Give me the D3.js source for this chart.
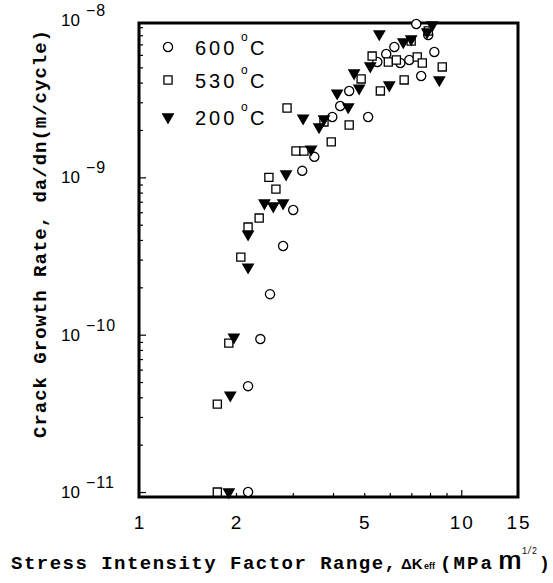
<!DOCTYPE html>
<html>
<head>
<meta charset="utf-8">
<script src="https://d3js.org/d3.v7.min.js"></script>
<style>
  body { margin: 0; background: #fff; }
  svg { display: block; }
</style>
</head>
<body>
<script>
// values: dK_eff (MPa m^1/2) against da/dn (m/cycle)
var k600 = [2.18, 2.18, 2.38, 2.55, 2.80, 3.01, 3.21, 3.50, 3.98, 4.21, 4.49,
            5.14, 5.49, 5.85, 6.20, 6.47, 6.90, 7.51, 8.25, 7.25, 7.90];
var rate600 = [1.0e-11, 4.71e-11, 9.38e-11, 1.81e-10, 3.66e-10, 6.20e-10, 1.10e-9, 1.35e-9, 2.42e-9, 2.84e-9, 3.54e-9,
               2.42e-9, 5.41e-9, 6.08e-9, 6.74e-9, 5.33e-9, 5.57e-9, 4.41e-9, 6.26e-9, 9.43e-9, 8.03e-9];

var k530 = [1.75, 1.75, 1.90, 2.07, 2.18, 2.36, 2.53, 2.66, 2.88, 3.07, 3.25, 3.75, 3.95,
            4.49, 4.89, 5.29, 5.61, 5.94, 6.29, 6.65, 6.99, 7.30, 7.57, 7.90, 8.73];
var rate530 = [1.0e-11, 3.62e-11, 8.84e-11, 3.11e-10, 4.83e-10, 5.51e-10, 1.00e-9, 8.42e-10, 2.76e-9, 1.47e-9, 1.47e-9, 2.25e-9, 1.68e-9,
               2.15e-9, 4.22e-9, 5.90e-9, 3.54e-9, 5.41e-9, 5.57e-9, 4.16e-9, 7.35e-9, 5.82e-9, 5.33e-9, 8.51e-9, 5.03e-9];

var k200 = [1.90, 1.92, 1.97, 2.18, 2.18, 2.45, 2.61, 2.80, 2.86, 3.23, 3.42, 3.62, 3.75,
            4.12, 4.46, 4.65, 4.82, 5.22, 5.57, 5.98, 6.61, 6.99, 7.84, 8.13, 8.55];
var rate200 = [1.0e-11, 4.13e-11, 9.65e-11, 2.69e-10, 4.36e-10, 6.87e-10, 6.57e-10, 6.87e-10, 1.05e-9, 2.38e-9, 1.51e-9, 2.09e-9, 2.35e-9,
               3.43e-9, 2.80e-9, 4.60e-9, 3.69e-9, 5.10e-9, 8.15e-9, 3.86e-9, 7.25e-9, 7.57e-9, 8.39e-9, 9.29e-9, 4.16e-9];

var legendLabels = ["600", "530", "200"];
var xTickLabels = [1, 2, 5, 10, 15];
var yTickLabels = [1e-8, 1e-9, 1e-10, 1e-11];

var width = 553, height = 583;

var svg = d3.select("body").append("svg")
    .attr("width", width)
    .attr("height", height);

var x = d3.scaleLog().domain([1, 15]).range([139, 518]);
var y = d3.scaleLog().domain([9.3e-12, 9.57e-9]).range([497, 23]);

var series = [
  {k: k600, rate: rate600, shape: d3.symbolCircle, size: 66, fill: "#fff", rot: 0},
  {k: k530, rate: rate530, shape: d3.symbolSquare, size: 66, fill: "#fff", rot: 0},
  {k: k200, rate: rate200, shape: d3.symbolTriangle, size: 48, fill: "#000", rot: 180}
];

// minor / major ticks, pointing inward
var xMinor = [], yMinor = [];
[1, 10].forEach(function(dec) {
  for (var m = 2; m <= 9; m++) if (m * dec <= 15) xMinor.push(m * dec);
});
[1e-11, 1e-10, 1e-9].forEach(function(dec) {
  for (var m = 2; m <= 9; m++) yMinor.push(m * dec);
});

function tickStyle(g) {
  g.select(".domain").remove();
  g.selectAll(".tick line").attr("stroke", "#000").attr("stroke-width", 1.2);
}

svg.append("g")
    .attr("transform", "translate(" + x.range()[0] + ",0)")
    .call(d3.axisLeft(y).tickValues(yMinor).tickSize(-4).tickFormat(""))
    .call(tickStyle);
svg.append("g")
    .attr("transform", "translate(" + x.range()[0] + ",0)")
    .call(d3.axisLeft(y).tickValues(yTickLabels.slice(1)).tickSize(-7).tickFormat(""))
    .call(tickStyle);
svg.append("g")
    .attr("transform", "translate(0," + y.range()[0] + ")")
    .call(d3.axisBottom(x).tickValues(xMinor).tickSize(-4).tickFormat(""))
    .call(tickStyle);
svg.append("g")
    .attr("transform", "translate(0," + y.range()[0] + ")")
    .call(d3.axisBottom(x).tickValues([10]).tickSize(-7).tickFormat(""))
    .call(tickStyle);

// frame
svg.append("rect")
    .attr("x", x.range()[0])
    .attr("y", y.range()[1])
    .attr("width", x.range()[1] - x.range()[0])
    .attr("height", y.range()[0] - y.range()[1])
    .attr("fill", "none")
    .attr("stroke", "#000")
    .attr("stroke-width", 3);

// points
series.forEach(function(s) {
  svg.append("g").selectAll("path")
      .data(s.k.map(function(k, i) { return [k, s.rate[i]]; }))
      .enter().append("path")
      .attr("d", d3.symbol().type(s.shape).size(s.size))
      .attr("transform", function(d) {
        return "translate(" + x(d[0]) + "," + y(d[1]) + ") rotate(" + s.rot + ")";
      })
      .attr("fill", s.fill)
      .attr("stroke", "#000")
      .attr("stroke-width", 1.3);
});

// x tick labels
svg.append("g").selectAll("text")
    .data(xTickLabels)
    .enter().append("text")
    .attr("x", function(d) { return x(d) + 1; })
    .attr("y", 529)
    .attr("text-anchor", "middle")
    .attr("font-family", "Liberation Sans, Arial, sans-serif")
    .attr("font-size", 19)
    .attr("letter-spacing", 2)
    .text(function(d) { return d; });

// y tick labels, 10 with superscript exponent
var yl = svg.append("g").selectAll("text")
    .data(yTickLabels)
    .enter().append("text")
    .attr("x", 61)
    .attr("y", function(d) { return y(d) + 6; })
    .attr("font-family", "Liberation Sans, Arial, sans-serif")
    .attr("font-size", 17);
yl.append("tspan").text("10");
yl.append("tspan")
    .attr("dx", 6)
    .attr("dy", -10)
    .attr("font-size", 16)
    .attr("letter-spacing", 1)
    .text(function(d) { return "\u2212" + Math.round(-Math.log10(d)); });

// legend: number, raised degree mark, C
var leg = svg.append("g").selectAll("g")
    .data(series)
    .enter().append("g")
    .attr("transform", function(d, i) { return "translate(168," + [47, 80, 117][i] + ")"; });
leg.append("path")
    .attr("d", function(d) { return d3.symbol().type(d.shape).size(d.size)(); })
    .attr("transform", function(d) { return "rotate(" + d.rot + ")"; })
    .attr("fill", function(d) { return d.fill; })
    .attr("stroke", "#000")
    .attr("stroke-width", 1.3);
var legFont = "Liberation Sans, Arial, sans-serif";
leg.append("text")
    .attr("x", 27).attr("y", 8)
    .attr("font-family", legFont)
    .attr("font-size", 20)
    .attr("letter-spacing", 3)
    .text(function(d, i) { return legendLabels[i]; });
leg.append("text")
    .attr("x", 73).attr("y", -6)
    .attr("font-family", legFont)
    .attr("font-size", 12)
    .text("o");
leg.append("text")
    .attr("x", 82).attr("y", 8)
    .attr("font-family", legFont)
    .attr("font-size", 20)
    .text("C");

// axis titles
var mono = "Liberation Mono, Courier New, monospace";
svg.append("text")
    .attr("transform", "translate(46,234) rotate(-90)")
    .attr("text-anchor", "middle")
    .attr("font-family", mono)
    .attr("font-weight", "bold")
    .attr("font-size", 19)
    .attr("textLength", 408)
    .attr("lengthAdjust", "spacing")
    .text("Crack Growth Rate, da/dn(m/cycle)");

var xt = svg.append("g").attr("font-family", mono).attr("font-weight", "bold");
xt.append("text")
    .attr("x", 11).attr("y", 569)
    .attr("font-size", 19)
    .attr("textLength", 385)
    .attr("lengthAdjust", "spacing")
    .text("Stress Intensity Factor Range,");
xt.append("text")
    .attr("x", 401).attr("y", 569)
    .attr("font-family", "Liberation Sans, Arial, sans-serif")
    .attr("font-size", 15)
    .text("\u0394K");
xt.append("text")
    .attr("x", 424).attr("y", 569)
    .attr("font-family", "Liberation Sans, Arial, sans-serif")
    .attr("font-size", 9)
    .text("eff");
xt.append("text")
    .attr("x", 440).attr("y", 569)
    .attr("font-size", 19)
    .attr("textLength", 52)
    .attr("lengthAdjust", "spacing")
    .text("(MPa");
xt.append("text")
    .attr("x", 498).attr("y", 569)
    .attr("font-size", 26)
    .attr("font-weight", "normal")
    .attr("textLength", 24)
    .attr("lengthAdjust", "spacingAndGlyphs")
    .text("m");
xt.append("text")
    .attr("x", 522).attr("y", 554)
    .attr("font-size", 11)
    .attr("font-weight", "normal")
    .attr("textLength", 15)
    .attr("lengthAdjust", "spacingAndGlyphs")
    .text("1/2");
xt.append("text")
    .attr("x", 539).attr("y", 569)
    .attr("font-size", 18)
    .text(")");
</script>
</body>
</html>
